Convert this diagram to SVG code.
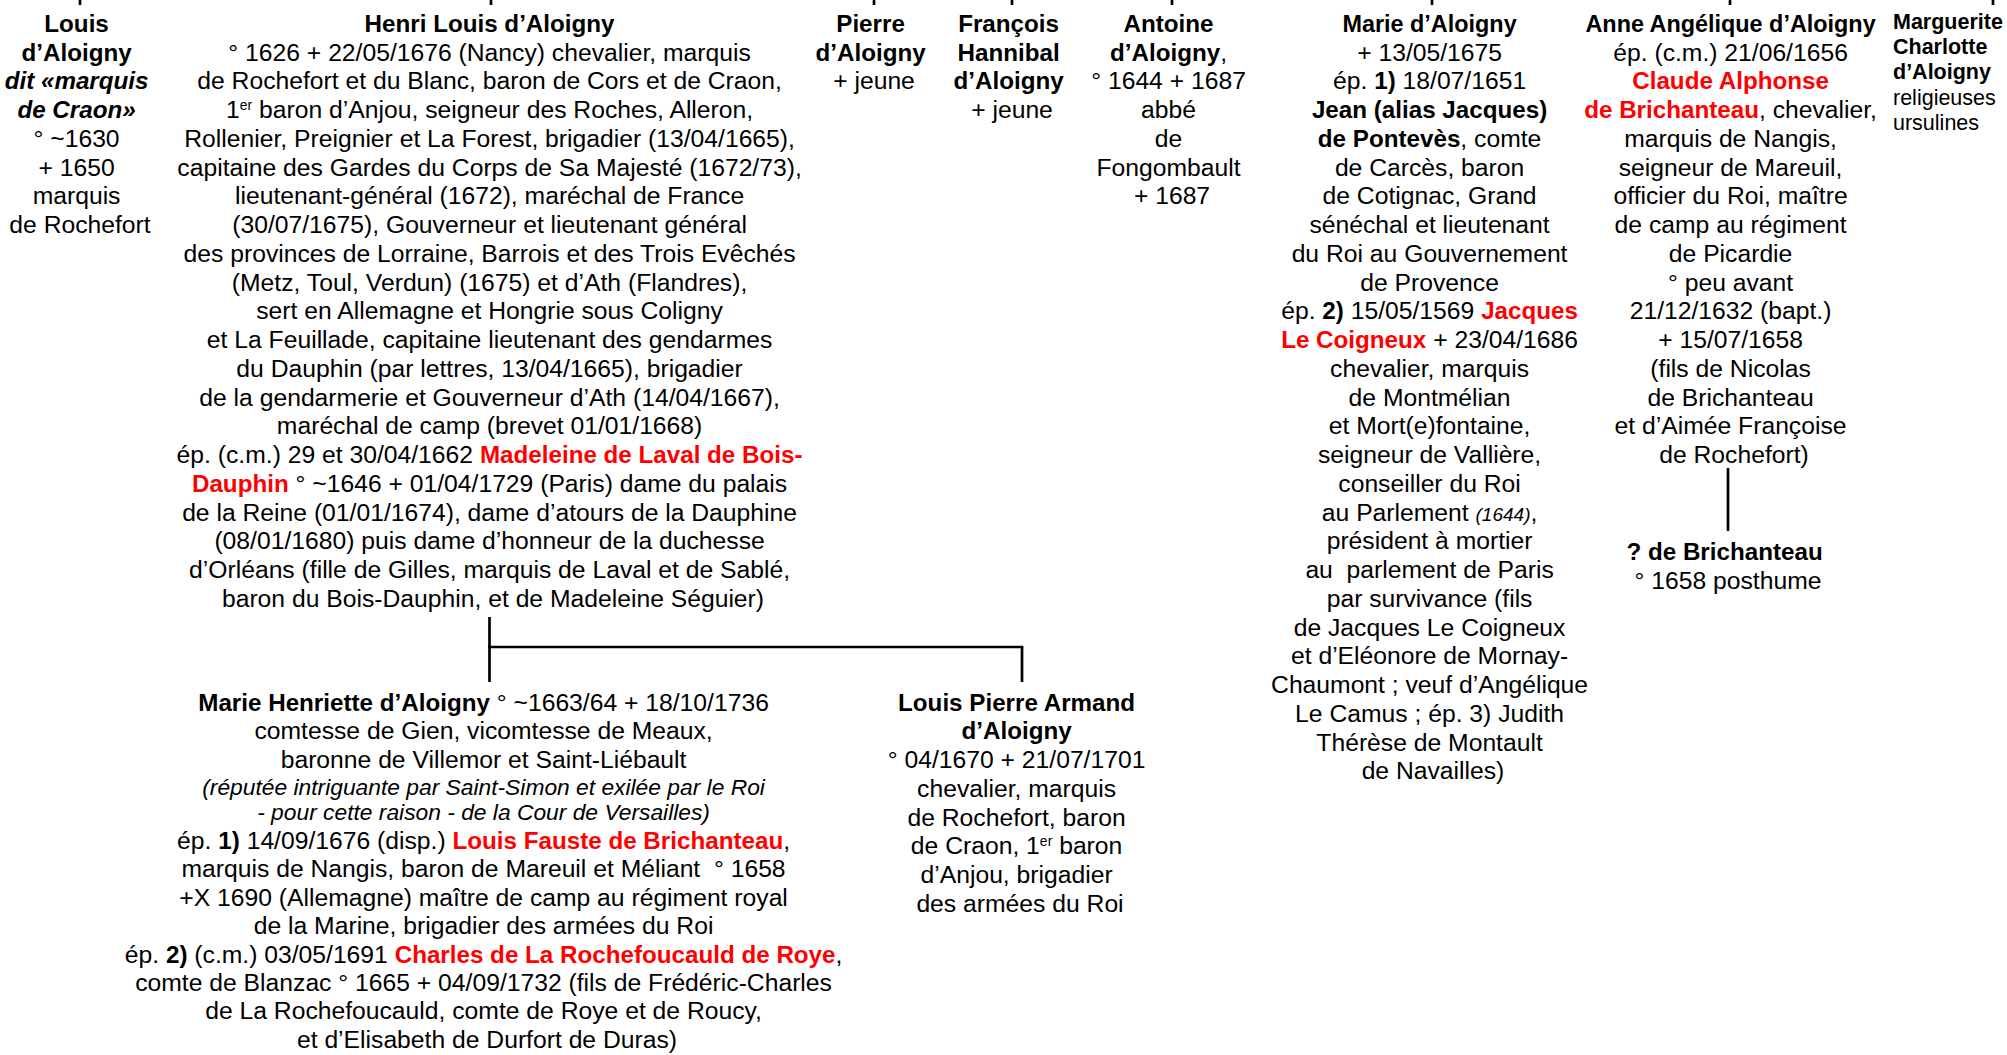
<svg xmlns="http://www.w3.org/2000/svg" width="2007" height="1055" viewBox="0 0 2007 1055">
<style>
text{font-family:"Liberation Sans",Arial,sans-serif;font-size:24.7px;fill:#000;text-anchor:middle}
.b{font-weight:bold;font-size:24.2px}
.b.t2{font-size:23.4px}
.i{font-style:italic}
.r{fill:#ff0000;font-weight:bold;font-size:24.2px}
.sup{font-size:14px}
.sm{font-size:22.8px}
.left{text-anchor:start}
.mg tspan{font-size:21.5px}
.conn line{stroke:#000;stroke-width:2.7;fill:none}
</style>
<rect width="2007" height="1055" fill="#fff"/>
<g id="connectors" class="conn">
<line x1="80" y1="0" x2="80" y2="5"/>
<line x1="491" y1="0" x2="491" y2="5"/>
<line x1="874" y1="0" x2="874" y2="5"/>
<line x1="1012" y1="0" x2="1012" y2="5"/>
<line x1="1172" y1="0" x2="1172" y2="5"/>
<line x1="1432" y1="0" x2="1432" y2="5"/>
<line x1="1730" y1="0" x2="1730" y2="5"/>
<line x1="1993" y1="0" x2="1993" y2="5"/>
<line x1="489.5" y1="617" x2="489.5" y2="682"/>
<line x1="488.2" y1="647" x2="1023.3" y2="647"/>
<line x1="1022" y1="647" x2="1022" y2="682"/>
<line x1="1728" y1="468" x2="1728" y2="531"/>
</g>
<g id="louis">
<text>
<tspan x="80" y="31.7" class="b">Louis</tspan>
<tspan x="80" y="60.5" class="b">d’Aloigny</tspan>
<tspan x="80" y="89.2" class="b i">dit «marquis</tspan>
<tspan x="80" y="118" class="b i">de Craon»</tspan>
<tspan x="80" y="146.7">° ~1630</tspan>
<tspan x="80" y="175.5">+ 1650</tspan>
<tspan x="80" y="204.2">marquis</tspan>
<tspan x="80" y="233">de Rochefort</tspan>
</text>
</g>
<g id="henri">
<text>
<tspan x="493" y="31.7" class="b">Henri Louis d’Aloigny</tspan>
<tspan x="493" y="60.5">° 1626 + 22/05/1676 (Nancy) chevalier, marquis</tspan>
<tspan x="493" y="89.2">de Rochefort et du Blanc, baron de Cors et de Craon,</tspan>
<tspan x="493" y="118">1<tspan class="sup" dy="-8">er</tspan><tspan dy="8"> baron d’Anjou, seigneur des Roches, Alleron,</tspan></tspan>
<tspan x="493" y="146.7">Rollenier, Preignier et La Forest, brigadier (13/04/1665),</tspan>
<tspan x="493" y="175.5">capitaine des Gardes du Corps de Sa Majesté (1672/73),</tspan>
<tspan x="493" y="204.2">lieutenant-général (1672), maréchal de France</tspan>
<tspan x="493" y="233">(30/07/1675), Gouverneur et lieutenant général</tspan>
<tspan x="493" y="261.7">des provinces de Lorraine, Barrois et des Trois Evêchés</tspan>
<tspan x="493" y="290.5">(Metz, Toul, Verdun) (1675) et d’Ath (Flandres),</tspan>
<tspan x="493" y="319.2">sert en Allemagne et Hongrie sous Coligny</tspan>
<tspan x="493" y="348">et La Feuillade, capitaine lieutenant des gendarmes</tspan>
<tspan x="493" y="376.7">du Dauphin (par lettres, 13/04/1665), brigadier</tspan>
<tspan x="493" y="405.5">de la gendarmerie et Gouverneur d’Ath (14/04/1667),</tspan>
<tspan x="493" y="434.2">maréchal de camp (brevet 01/01/1668)</tspan>
<tspan x="493" y="463">ép. (c.m.) 29 et 30/04/1662 <tspan class="r">Madeleine de Laval de Bois-</tspan></tspan>
<tspan x="493" y="491.7"><tspan class="r">Dauphin</tspan> ° ~1646 + 01/04/1729 (Paris) dame du palais</tspan>
<tspan x="493" y="520.5">de la Reine (01/01/1674), dame d’atours de la Dauphine</tspan>
<tspan x="493" y="549.2">(08/01/1680) puis dame d’honneur de la duchesse</tspan>
<tspan x="493" y="578">d’Orléans (fille de Gilles, marquis de Laval et de Sablé,</tspan>
<tspan x="493" y="606.7">baron du Bois-Dauphin, et de Madeleine Séguier)</tspan>
</text>
</g>
<g id="pierre">
<text>
<tspan x="874" y="31.7" class="b">Pierre</tspan>
<tspan x="874" y="60.5" class="b">d’Aloigny</tspan>
<tspan x="874" y="89.2">+ jeune</tspan>
</text>
</g>
<g id="francois">
<text>
<tspan x="1012" y="31.7" class="b">François</tspan>
<tspan x="1012" y="60.5" class="b">Hannibal</tspan>
<tspan x="1012" y="89.2" class="b">d’Aloigny</tspan>
<tspan x="1012" y="118">+ jeune</tspan>
</text>
</g>
<g id="antoine">
<text>
<tspan x="1172" y="31.7" class="b">Antoine</tspan>
<tspan x="1172" y="60.5"><tspan class="b">d’Aloigny</tspan>,</tspan>
<tspan x="1172" y="89.2">° 1644 + 1687</tspan>
<tspan x="1172" y="118">abbé</tspan>
<tspan x="1172" y="146.7">de</tspan>
<tspan x="1172" y="175.5">Fongombault</tspan>
<tspan x="1172" y="204.2">+ 1687</tspan>
</text>
</g>
<g id="marie">
<text>
<tspan x="1433" y="31.7" class="b t2">Marie d’Aloigny</tspan>
<tspan x="1433" y="60.5">+ 13/05/1675</tspan>
<tspan x="1433" y="89.2">ép. <tspan class="b">1)</tspan> 18/07/1651</tspan>
<tspan x="1433" y="118" class="b">Jean (alias Jacques)</tspan>
<tspan x="1433" y="146.7"><tspan class="b">de Pontevès</tspan>, comte</tspan>
<tspan x="1433" y="175.5">de Carcès, baron</tspan>
<tspan x="1433" y="204.2">de Cotignac, Grand</tspan>
<tspan x="1433" y="233">sénéchal et lieutenant</tspan>
<tspan x="1433" y="261.7">du Roi au Gouvernement</tspan>
<tspan x="1433" y="290.5">de Provence</tspan>
<tspan x="1433" y="319.2">ép. <tspan class="b">2)</tspan> 15/05/1569 <tspan class="r">Jacques</tspan></tspan>
<tspan x="1433" y="348"><tspan class="r">Le Coigneux</tspan> + 23/04/1686</tspan>
<tspan x="1433" y="376.7">chevalier, marquis</tspan>
<tspan x="1433" y="405.5">de Montmélian</tspan>
<tspan x="1433" y="434.2">et Mort(e)fontaine,</tspan>
<tspan x="1433" y="463">seigneur de Vallière,</tspan>
<tspan x="1433" y="491.7">conseiller du Roi</tspan>
<tspan x="1433" y="520.5">au Parlement <tspan class="i" font-size="19">(1644)</tspan>,</tspan>
<tspan x="1433" y="549.2">président à mortier</tspan>
<tspan x="1433" y="578">au&#160; parlement de Paris</tspan>
<tspan x="1433" y="606.7">par survivance (fils</tspan>
<tspan x="1433" y="635.5">de Jacques Le Coigneux</tspan>
<tspan x="1433" y="664.2">et d’Eléonore de Mornay-</tspan>
<tspan x="1433" y="693">Chaumont ; veuf d’Angélique</tspan>
<tspan x="1433" y="721.7">Le Camus ; ép. 3) Judith</tspan>
<tspan x="1433" y="750.5">Thérèse de Montault</tspan>
<tspan x="1433" y="779.2">de Navailles)</tspan>
</text>
</g>
<g id="anne">
<text>
<tspan x="1734" y="31.7" class="b t2">Anne Angélique d’Aloigny</tspan>
<tspan x="1734" y="60.5">ép. (c.m.) 21/06/1656</tspan>
<tspan x="1734" y="89.2" class="r">Claude Alphonse</tspan>
<tspan x="1734" y="118"><tspan class="r">de Brichanteau</tspan>, chevalier,</tspan>
<tspan x="1734" y="146.7">marquis de Nangis,</tspan>
<tspan x="1734" y="175.5">seigneur de Mareuil,</tspan>
<tspan x="1734" y="204.2">officier du Roi, maître</tspan>
<tspan x="1734" y="233">de camp au régiment</tspan>
<tspan x="1734" y="261.7">de Picardie</tspan>
<tspan x="1734" y="290.5">° peu avant</tspan>
<tspan x="1734" y="319.2">21/12/1632 (bapt.)</tspan>
<tspan x="1734" y="348">+ 15/07/1658</tspan>
<tspan x="1734" y="376.7">(fils de Nicolas</tspan>
<tspan x="1734" y="405.5">de Brichanteau</tspan>
<tspan x="1734" y="434.2">et d’Aimée Françoise</tspan>
<tspan x="1734" y="463">de Rochefort)</tspan>
</text>
</g>
<g id="brichanteau-child">
<text>
<tspan x="1728" y="560" class="b">? de Brichanteau</tspan>
<tspan x="1728" y="588.5">° 1658 posthume</tspan>
</text>
</g>
<g id="marguerite">
<text class="left mg">
<tspan x="1893" y="29.3" class="b">Marguerite</tspan>
<tspan x="1893" y="54.3" class="b">Charlotte</tspan>
<tspan x="1893" y="79.3" class="b">d’Aloigny</tspan>
<tspan x="1893" y="104.5">religieuses</tspan>
<tspan x="1893" y="129.5">ursulines</tspan>
</text>
</g>
<g id="marie-henriette">
<text>
<tspan x="487" y="710.5"><tspan class="b">Marie Henriette d’Aloigny</tspan> ° ~1663/64 + 18/10/1736</tspan>
<tspan x="487" y="739.3">comtesse de Gien, vicomtesse de Meaux,</tspan>
<tspan x="487" y="768">baronne de Villemor et Saint-Liébault</tspan>
<tspan x="487" y="795" class="i sm">(réputée intriguante par Saint-Simon et exilée par le Roi</tspan>
<tspan x="487" y="820" class="i sm">- pour cette raison - de la Cour de Versailles)</tspan>
<tspan x="487" y="849">ép. <tspan class="b">1)</tspan> 14/09/1676 (disp.) <tspan class="r">Louis Fauste de Brichanteau</tspan>,</tspan>
<tspan x="487" y="877.4">marquis de Nangis, baron de Mareuil et Méliant&#160; ° 1658</tspan>
<tspan x="487" y="905.8">+X 1690 (Allemagne) maître de camp au régiment royal</tspan>
<tspan x="487" y="934.2">de la Marine, brigadier des armées du Roi</tspan>
<tspan x="487" y="962.6">ép. <tspan class="b">2)</tspan> (c.m.) 03/05/1691 <tspan class="r">Charles de La Rochefoucauld de Roye</tspan>,</tspan>
<tspan x="487" y="991">comte de Blanzac ° 1665 + 04/09/1732 (fils de Frédéric-Charles</tspan>
<tspan x="487" y="1019.4">de La Rochefoucauld, comte de Roye et de Roucy,</tspan>
<tspan x="487" y="1047.8">et d’Elisabeth de Durfort de Duras)</tspan>
</text>
</g>
<g id="louis-pierre-armand">
<text>
<tspan x="1020" y="710.5" class="b">Louis Pierre Armand</tspan>
<tspan x="1020" y="739.3" class="b">d’Aloigny</tspan>
<tspan x="1020" y="768">° 04/1670 + 21/07/1701</tspan>
<tspan x="1020" y="796.8">chevalier, marquis</tspan>
<tspan x="1020" y="825.5">de Rochefort, baron</tspan>
<tspan x="1020" y="854.3">de Craon, 1<tspan class="sup" dy="-8">er</tspan><tspan dy="8"> baron</tspan></tspan>
<tspan x="1020" y="883">d’Anjou, brigadier</tspan>
<tspan x="1020" y="911.8">des armées du Roi</tspan>
</text>
</g>
</svg>
